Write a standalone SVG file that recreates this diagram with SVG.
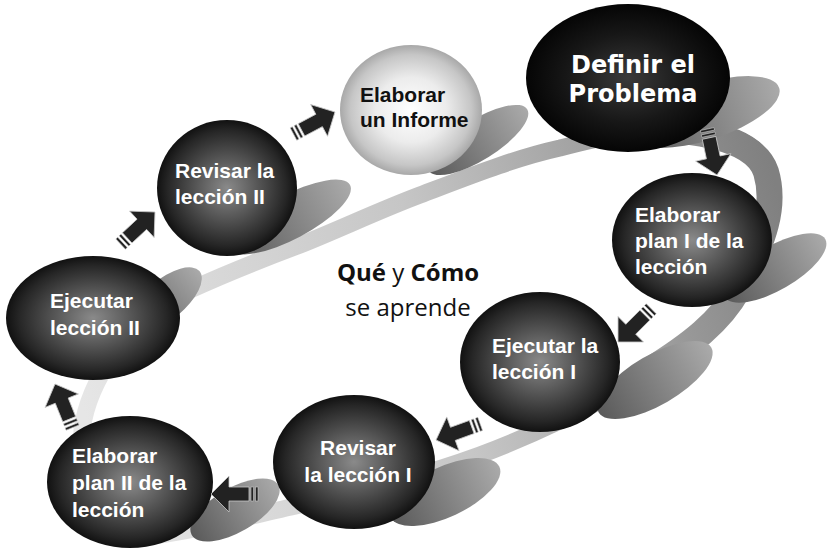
<svg xmlns="http://www.w3.org/2000/svg" xmlns:xlink="http://www.w3.org/1999/xlink" width="827" height="553" viewBox="0 0 827 553">
<defs>
<radialGradient id="gDark" cx="50%" cy="50%" r="50%">
<stop offset="0%" stop-color="#8a8a8a"/>
<stop offset="45%" stop-color="#555"/>
<stop offset="85%" stop-color="#262626"/>
<stop offset="100%" stop-color="#111"/>
</radialGradient>
<radialGradient id="gBlack" cx="50%" cy="50%" r="50%">
<stop offset="0%" stop-color="#3a3a3a"/>
<stop offset="60%" stop-color="#171717"/>
<stop offset="100%" stop-color="#050505"/>
</radialGradient>
<radialGradient id="gLight" cx="50%" cy="50%" r="50%">
<stop offset="0%" stop-color="#ffffff"/>
<stop offset="50%" stop-color="#ececec"/>
<stop offset="85%" stop-color="#c6c6c6"/>
<stop offset="100%" stop-color="#a8a8a8"/>
</radialGradient>
<linearGradient id="gShadow" x1="0" y1="0" x2="1" y2="0">
<stop offset="0%" stop-color="#5a5a5a"/>
<stop offset="100%" stop-color="#aaa"/>
</linearGradient>
<linearGradient id="gRing" gradientUnits="userSpaceOnUse" x1="80" y1="400" x2="780" y2="200">
<stop offset="0%" stop-color="#e6e6e6"/>
<stop offset="50%" stop-color="#c6c6c6"/>
<stop offset="100%" stop-color="#808080"/>
</linearGradient>
<g id="arr">
<polygon points="0,0 -18,-18 -18,-7 -38,-7 -38,7 -18,7 -18,18" fill="#222" stroke="#c8c8c8" stroke-width="0.8"/>
<rect x="-42.5" y="-7" width="2.5" height="14" fill="#222" stroke="#c8c8c8" stroke-width="0.6"/>
<rect x="-47" y="-7" width="2.5" height="14" fill="#222" stroke="#c8c8c8" stroke-width="0.6"/>
</g>
</defs>
<style>
.sh{fill:url(#gShadow)}
.t{font-family:"Liberation Sans",Arial,sans-serif;font-weight:bold;font-size:21px;fill:#fff}
.c{font-family:"Open Sans","Noto Sans",sans-serif;font-size:24px;fill:#111;text-anchor:middle}
</style>
<rect width="827" height="553" fill="#fff"/>
<g id="ring">
<path d="M82 430 C88 385 125 320 190 290 C225 274 260 260 300 245 C340 229 380 210 420 195 C470 176 515 158 560 148 C600 138 640 128 680 128 C720 128 760 140 768 170 C778 205 765 240 738 290 C720 322 680 355 620 390 C570 418 520 440 480 455 C420 477 360 492 300 505 C250 516 200 530 160 535 C120 540 78 520 82 430 Z" fill="none" stroke="url(#gRing)" stroke-width="17"/>
<path d="M620 132 C690 125 755 138 766 172 C776 205 765 240 738 290 C720 322 690 345 650 370" fill="none" stroke="url(#gRing)" stroke-width="26"/>
</g>
<g id="shadows">
<ellipse class="sh" cx="705" cy="112" rx="78" ry="28" transform="rotate(-18 705 112)"/>
<ellipse class="sh" cx="478" cy="140" rx="58" ry="20" transform="rotate(-32 478 140)"/>
<ellipse class="sh" cx="290" cy="217" rx="68" ry="22" transform="rotate(-28 290 217)"/>
<ellipse class="sh" cx="165" cy="300" rx="45" ry="20" transform="rotate(-40 165 300)"/>
<ellipse class="sh" cx="235" cy="510" rx="50" ry="22" transform="rotate(-30 235 510)"/>
<ellipse class="sh" cx="445" cy="492" rx="60" ry="25" transform="rotate(-25 445 492)"/>
<ellipse class="sh" cx="655" cy="380" rx="65" ry="25" transform="rotate(-30 655 380)"/>
<ellipse class="sh" cx="775" cy="268" rx="58" ry="22" transform="rotate(-30 775 268)"/>
</g>
<g id="n-definir">
<ellipse cx="628" cy="78" rx="102" ry="74" fill="url(#gBlack)"/>
<text x="633" y="73" text-anchor="middle" style="font-family:'DejaVu Sans',Verdana,sans-serif;font-weight:bold;font-size:24px;fill:#fff">Definir el</text>
<text x="633" y="102" text-anchor="middle" style="font-family:'DejaVu Sans',Verdana,sans-serif;font-weight:bold;font-size:24px;fill:#fff">Problema</text>
</g>
<g id="n-plan1">
<ellipse cx="692" cy="240" rx="80" ry="67" fill="url(#gDark)"/>
<text class="t" x="635" y="222">Elaborar</text>
<text class="t" x="635" y="248">plan I de la</text>
<text class="t" x="635" y="274">lección</text>
</g>
<g id="n-ejecutar1">
<ellipse cx="540" cy="362" rx="80" ry="70" fill="url(#gDark)"/>
<text class="t" x="492" y="353">Ejecutar la</text>
<text class="t" x="492" y="379">lección I</text>
</g>
<g id="n-revisar1">
<ellipse cx="354" cy="462" rx="81" ry="67" fill="url(#gDark)"/>
<text class="t" x="358" y="455" text-anchor="middle">Revisar</text>
<text class="t" x="358" y="482" text-anchor="middle">la lección I</text>
</g>
<g id="n-plan2">
<ellipse cx="130" cy="482" rx="83" ry="66" fill="url(#gDark)"/>
<text class="t" x="72" y="463">Elaborar</text>
<text class="t" x="72" y="490">plan II de la</text>
<text class="t" x="72" y="517">lección</text>
</g>
<g id="n-ejecutar2">
<ellipse cx="93" cy="318" rx="87" ry="62" fill="url(#gDark)"/>
<text class="t" x="50" y="308">Ejecutar</text>
<text class="t" x="50" y="335">lección II</text>
</g>
<g id="n-revisar2">
<ellipse cx="227" cy="188" rx="70" ry="68" fill="url(#gDark)"/>
<text class="t" x="175" y="178">Revisar la</text>
<text class="t" x="175" y="204">lección II</text>
</g>
<g id="n-informe">
<ellipse cx="411" cy="110" rx="71" ry="65" fill="url(#gLight)"/>
<text class="t" x="360" y="102" style="fill:#111">Elaborar</text>
<text class="t" x="360" y="127" style="fill:#111">un Informe</text>
</g>
<g id="center-label">
<text class="c" x="408" y="281"><tspan font-weight="bold">Qué</tspan> y <tspan font-weight="bold">Cómo</tspan></text>
<text class="c" x="408" y="316">se aprende</text>
</g>
<g id="connectors">
<use xlink:href="#arr" transform="translate(717 175) rotate(78)"/>
<use xlink:href="#arr" transform="translate(618 342) rotate(135)"/>
<use xlink:href="#arr" transform="translate(436 440) rotate(160)"/>
<use xlink:href="#arr" transform="translate(211 494) rotate(180)"/>
<use xlink:href="#arr" transform="translate(55 384) rotate(-112)"/>
<use xlink:href="#arr" transform="translate(155 212) rotate(-43)"/>
<use xlink:href="#arr" transform="translate(335 112) rotate(-28)"/>
</g>
</svg>
